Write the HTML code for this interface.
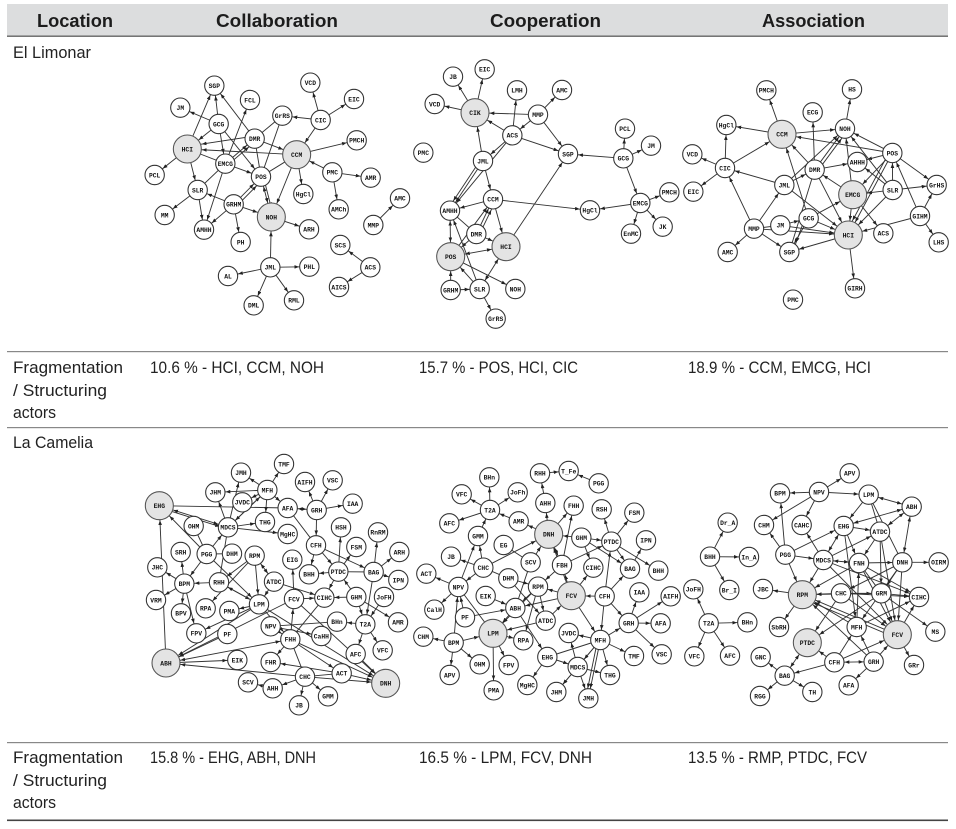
<!DOCTYPE html>
<html lang="en"><head><meta charset="utf-8"><title>Network diagrams by location</title>
<style>
html,body{margin:0;padding:0;background:#fff}
svg{display:block}
.t1{font:17px "Liberation Sans",sans-serif;fill:#222}
.h1{font:bold 18px "Liberation Sans",sans-serif;fill:#1c1c1c}
.g path{fill:none;stroke:#333;stroke-width:2.8}
.g circle{fill:#fff;stroke:#333;stroke-width:3.2}
.g circle.B{fill:#e4e4e4;stroke:#555}
.g text{font:bold 19px "Liberation Mono",monospace;text-anchor:middle;fill:#111}
.a{marker-end:url(#a)}.b{marker-end:url(#b)}
.s{marker-start:url(#a)}.u{marker-start:url(#b)}
</style></head><body>
<svg width="956" height="829" viewBox="0 0 956 829" xmlns="http://www.w3.org/2000/svg">
<defs>
<marker id="a" markerUnits="userSpaceOnUse" markerWidth="14" markerHeight="11" refX="45" refY="5.5" orient="auto-start-reverse"><path d="M0 0L14 5.5L0 11z" fill="#222"/></marker>
<marker id="b" markerUnits="userSpaceOnUse" markerWidth="14" markerHeight="11" refX="58" refY="5.5" orient="auto-start-reverse"><path d="M0 0L14 5.5L0 11z" fill="#222"/></marker>
</defs>

<rect x="7" y="4" width="941" height="32" fill="#dcddde"/>
<rect x="7" y="35.5" width="941" height="1.4" fill="#666"/>
<rect x="7" y="351" width="941" height="1.2" fill="#888"/>
<rect x="7" y="427" width="941" height="1.2" fill="#888"/>
<rect x="7" y="742" width="941" height="1.2" fill="#888"/>
<rect x="7" y="819.5" width="941" height="1.6" fill="#444"/>

<text class="h1" x="37" y="27" textLength="76" lengthAdjust="spacingAndGlyphs">Location</text>
<text class="h1" x="216" y="27" textLength="122" lengthAdjust="spacingAndGlyphs">Collaboration</text>
<text class="h1" x="490" y="27" textLength="111" lengthAdjust="spacingAndGlyphs">Cooperation</text>
<text class="h1" x="762" y="27" textLength="103" lengthAdjust="spacingAndGlyphs">Association</text>

<text class="t1" x="13" y="58" textLength="78" lengthAdjust="spacingAndGlyphs">El Limonar</text>
<text class="t1" x="13" y="373" textLength="110" lengthAdjust="spacingAndGlyphs">Fragmentation</text>
<text class="t1" x="13" y="396" textLength="94" lengthAdjust="spacingAndGlyphs">/ Structuring</text>
<text class="t1" x="13" y="418" textLength="43" lengthAdjust="spacingAndGlyphs">actors</text>
<text class="t1" x="150" y="373" textLength="174" lengthAdjust="spacingAndGlyphs">10.6 % - HCI, CCM, NOH</text>
<text class="t1" x="419" y="373" textLength="159" lengthAdjust="spacingAndGlyphs">15.7 % - POS, HCI, CIC</text>
<text class="t1" x="688" y="373" textLength="183" lengthAdjust="spacingAndGlyphs">18.9 % - CCM, EMCG, HCI</text>
<text class="t1" x="13" y="448" textLength="80" lengthAdjust="spacingAndGlyphs">La Camelia</text>
<text class="t1" x="13" y="763" textLength="110" lengthAdjust="spacingAndGlyphs">Fragmentation</text>
<text class="t1" x="13" y="786" textLength="94" lengthAdjust="spacingAndGlyphs">/ Structuring</text>
<text class="t1" x="13" y="808" textLength="43" lengthAdjust="spacingAndGlyphs">actors</text>
<text class="t1" x="150" y="763" textLength="166" lengthAdjust="spacingAndGlyphs">15.8 % - EHG, ABH, DNH</text>
<text class="t1" x="419" y="763" textLength="173" lengthAdjust="spacingAndGlyphs">16.5 % - LPM, FCV, DNH</text>
<text class="t1" x="688" y="763" textLength="179" lengthAdjust="spacingAndGlyphs">13.5 % - RMP, PTDC, FCV</text>

<!-- Graph 1 -->
<g class="g" transform="translate(130 60) scale(.33333)">
<path class="a" d="M266 192L253 77"/><path class="a" d="M172 267L253 77"/><path class="a" d="M374 236L253 77"/><path class="a" d="M266 192L151 143"/><path class="b" d="M266 192L172 267"/><path class="a" d="M266 192L393 350"/><path class="a" d="M266 192L286 311"/><path class="a" d="M286 311L360 120"/><path class="b" d="M374 228L172 259"/><path class="b" d="M500 284L172 267"/><path d="M286 311L172 267"/><path class="a" d="M286 311L374 236"/><path class="a" d="M292 316L380 241"/><path class="b" d="M374 236L500 284"/><path d="M374 236L457 167"/><path d="M374 236L393 350"/><path d="M457 167L393 350"/><path d="M500 284L393 350"/><path class="a" d="M286 311L393 350"/><path class="b s" d="M393 350L424 471"/><path class="a" d="M400 350L431 471"/><path class="b" d="M500 284L424 471"/><path class="b" d="M311 433L424 471"/><path class="a" d="M311 433L393 350"/><path class="a" d="M319 439L401 356"/><path class="a" d="M572 180L457 167"/><path class="a" d="M572 180L541 68"/><path class="a" d="M572 180L672 117"/><path class="b" d="M572 180L500 284"/><path class="a" d="M500 284L680 241"/><path class="b" d="M607 337L500 284"/><path class="a" d="M607 337L722 353"/><path class="a" d="M607 337L626 448"/><path class="a" d="M500 284L520 402"/><path class="a" d="M172 267L74 345"/><path class="a" d="M172 267L203 390"/><path d="M286 311L203 390"/><path class="a" d="M286 311L222 509"/><path class="a" d="M203 390L104 465"/><path class="a" d="M203 390L222 509"/><path class="a" d="M311 433L203 390"/><path class="a" d="M311 433L222 509"/><path class="a" d="M311 433L332 546"/><path class="a" d="M424 471L537 508"/><path class="b" d="M421 622L424 471"/><path class="a" d="M421 622L294 648"/><path class="a" d="M421 622L538 620"/><path class="a" d="M421 622L371 736"/><path class="a" d="M421 622L492 721"/><path class="a" d="M730 495L810 415"/><path class="a" d="M721 622L631 555"/><path class="a" d="M721 622L627 681"/>
<circle cx="253" cy="77" r="29"/><text x="253" y="84">SGP</text>
<circle cx="151" cy="143" r="29"/><text x="151" y="150">JM</text>
<circle cx="360" cy="120" r="29"/><text x="360" y="127">FCL</text>
<circle cx="541" cy="68" r="29"/><text x="541" y="75">VCD</text>
<circle cx="672" cy="117" r="29"/><text x="672" y="124">EIC</text>
<circle cx="457" cy="167" r="29"/><text x="457" y="174">GrRS</text>
<circle cx="572" cy="180" r="29"/><text x="572" y="187">CIC</text>
<circle cx="266" cy="192" r="29"/><text x="266" y="199">GCG</text>
<circle cx="374" cy="236" r="29"/><text x="374" y="243">DMR</text>
<circle cx="680" cy="241" r="29"/><text x="680" y="248">PMCH</text>
<circle class="B" cx="172" cy="267" r="42"/><text x="172" y="274">HCI</text>
<circle class="B" cx="500" cy="284" r="42"/><text x="500" y="291">CCM</text>
<circle cx="286" cy="311" r="29"/><text x="286" y="318">EMCG</text>
<circle cx="607" cy="337" r="29"/><text x="607" y="344">PMC</text>
<circle cx="722" cy="353" r="29"/><text x="722" y="360">AMR</text>
<circle cx="74" cy="345" r="29"/><text x="74" y="352">PCL</text>
<circle cx="393" cy="350" r="29"/><text x="393" y="357">POS</text>
<circle cx="203" cy="390" r="29"/><text x="203" y="397">SLR</text>
<circle cx="520" cy="402" r="29"/><text x="520" y="409">HgCl</text>
<circle cx="626" cy="448" r="29"/><text x="626" y="455">AMCh</text>
<circle cx="810" cy="415" r="29"/><text x="810" y="422">AMC</text>
<circle cx="311" cy="433" r="29"/><text x="311" y="440">GRHM</text>
<circle cx="104" cy="465" r="29"/><text x="104" y="472">MM</text>
<circle class="B" cx="424" cy="471" r="42"/><text x="424" y="478">NOH</text>
<circle cx="537" cy="508" r="29"/><text x="537" y="515">ARH</text>
<circle cx="222" cy="509" r="29"/><text x="222" y="516">AMHH</text>
<circle cx="730" cy="495" r="29"/><text x="730" y="502">MMP</text>
<circle cx="332" cy="546" r="29"/><text x="332" y="553">PH</text>
<circle cx="631" cy="555" r="29"/><text x="631" y="562">SCS</text>
<circle cx="721" cy="622" r="29"/><text x="721" y="629">ACS</text>
<circle cx="294" cy="648" r="29"/><text x="294" y="655">AL</text>
<circle cx="421" cy="622" r="29"/><text x="421" y="629">JML</text>
<circle cx="538" cy="620" r="29"/><text x="538" y="627">PHL</text>
<circle cx="627" cy="681" r="29"/><text x="627" y="688">AICS</text>
<circle cx="371" cy="736" r="29"/><text x="371" y="743">DML</text>
<circle cx="492" cy="721" r="29"/><text x="492" y="728">RML</text>
</g>

<!-- Graph 2 -->
<g class="g" transform="translate(410 50) scale(.33333)">
<path class="a" d="M195 188L129 80"/><path class="a" d="M195 188L224 58"/><path class="a" d="M195 188L74 162"/><path class="b" d="M384 194L195 188"/><path class="b" d="M307 256L195 188"/><path class="b" d="M219 333L195 188"/><path class="a" d="M307 256L321 121"/><path class="a" d="M384 194L456 120"/><path class="a" d="M384 194L307 256"/><path class="a" d="M384 194L474 312"/><path class="a" d="M307 256L474 312"/><path class="a" d="M307 256L219 333"/><path class="a" d="M307 256L120 482"/><path class="a" d="M219 333L120 482"/><path class="a" d="M212 329L113 478"/><path class="a" d="M219 333L249 448"/><path class="a" d="M640 325L474 312"/><path class="a" d="M640 325L645 236"/><path class="a" d="M640 325L723 287"/><path class="a" d="M640 325L691 459"/><path class="a" d="M691 459L778 427"/><path class="a" d="M691 459L758 530"/><path class="a" d="M691 459L663 551"/><path class="a" d="M691 459L540 481"/><path class="a" d="M249 448L540 481"/><path class="a" d="M288 590L474 312"/><path class="a" d="M249 448L120 482"/><path class="b" d="M249 448L288 590"/><path class="a" d="M199 552L249 448"/><path class="a" d="M207 556L257 452"/><path class="a" d="M122 620L249 448"/><path d="M120 482L199 552"/><path class="b" d="M199 552L288 590"/><path class="b" d="M199 552L122 620"/><path class="b s" d="M120 482L122 620"/><path class="b u" d="M122 620L288 590"/><path class="a" d="M209 717L120 482"/><path class="b s" d="M209 717L288 590"/><path class="a" d="M122 620L316 717"/><path class="b" d="M122 720L122 620"/><path class="a" d="M122 720L209 717"/><path class="a" d="M209 717L257 806"/><path class="b" d="M209 717L122 620"/>
<circle cx="224" cy="58" r="29"/><text x="224" y="65">EIC</text>
<circle cx="129" cy="80" r="29"/><text x="129" y="87">JB</text>
<circle cx="321" cy="121" r="29"/><text x="321" y="128">LMH</text>
<circle cx="456" cy="120" r="29"/><text x="456" y="127">AMC</text>
<circle cx="74" cy="162" r="29"/><text x="74" y="169">VCD</text>
<circle class="B" cx="195" cy="188" r="42"/><text x="195" y="195">CIK</text>
<circle cx="384" cy="194" r="29"/><text x="384" y="201">MMP</text>
<circle cx="307" cy="256" r="29"/><text x="307" y="263">ACS</text>
<circle cx="645" cy="236" r="29"/><text x="645" y="243">PCL</text>
<circle cx="723" cy="287" r="29"/><text x="723" y="294">JM</text>
<circle cx="40" cy="308" r="29"/><text x="40" y="315">PMC</text>
<circle cx="219" cy="333" r="29"/><text x="219" y="340">JML</text>
<circle cx="474" cy="312" r="29"/><text x="474" y="319">SGP</text>
<circle cx="640" cy="325" r="29"/><text x="640" y="332">GCG</text>
<circle cx="249" cy="448" r="29"/><text x="249" y="455">CCM</text>
<circle cx="120" cy="482" r="29"/><text x="120" y="489">AMHH</text>
<circle cx="540" cy="481" r="29"/><text x="540" y="488">HgCl</text>
<circle cx="691" cy="459" r="29"/><text x="691" y="466">EMCG</text>
<circle cx="778" cy="427" r="29"/><text x="778" y="434">PMCH</text>
<circle cx="758" cy="530" r="29"/><text x="758" y="537">JK</text>
<circle cx="663" cy="551" r="29"/><text x="663" y="558">EnMC</text>
<circle cx="199" cy="552" r="29"/><text x="199" y="559">DMR</text>
<circle class="B" cx="288" cy="590" r="42"/><text x="288" y="597">HCI</text>
<circle class="B" cx="122" cy="620" r="42"/><text x="122" y="627">POS</text>
<circle cx="122" cy="720" r="29"/><text x="122" y="727">GRHM</text>
<circle cx="209" cy="717" r="29"/><text x="209" y="724">SLR</text>
<circle cx="316" cy="717" r="29"/><text x="316" y="724">NOH</text>
<circle cx="257" cy="806" r="29"/><text x="257" y="813">GrRS</text>
</g>

<!-- Graph 3 -->
<g class="g" transform="translate(680 70) scale(.33333)">
<path class="a" d="M306 193L259 61"/><path class="a" d="M495 176L516 58"/><path class="a" d="M404 299L398 127"/><path class="a" d="M306 193L139 165"/><path class="a" d="M135 294L139 165"/><path class="a" d="M135 294L37 253"/><path class="a" d="M135 294L40 365"/><path class="b" d="M135 294L306 193"/><path class="a" d="M306 193L495 176"/><path class="b" d="M637 249L306 193"/><path class="b" d="M404 299L306 193"/><path class="a" d="M313 345L135 294"/><path class="a" d="M222 476L135 294"/><path class="a" d="M222 476L313 345"/><path class="a" d="M222 476L143 546"/><path class="a" d="M222 476L328 546"/><path class="b" d="M222 476L505 495"/><path d="M222 476L301 466"/><path class="a" d="M301 466L386 445"/><path class="b" d="M301 466L505 495"/><path class="b" d="M386 445L306 193"/><path class="a" d="M386 445L328 546"/><path class="a" d="M376 441L338 546"/><path class="b" d="M386 445L505 495"/><path class="b" d="M386 445L518 374"/><path class="a" d="M313 345L404 299"/><path class="a" d="M313 345L495 176"/><path class="b" d="M313 345L505 495"/><path class="a" d="M404 299L495 176"/><path class="a" d="M412 304L503 181"/><path class="a" d="M404 299L532 276"/><path class="b" d="M404 299L505 495"/><path d="M404 299L328 546"/><path class="a" d="M518 374L404 299"/><path class="a" d="M518 374L495 176"/><path class="a" d="M518 374L610 490"/><path class="b" d="M518 374L505 495"/><path class="a" d="M637 249L495 176"/><path class="a" d="M637 249L532 276"/><path class="b" d="M637 249L518 374"/><path class="b" d="M637 249L505 495"/><path class="b" d="M629 244L497 490"/><path class="a" d="M637 249L770 345"/><path class="a" d="M638 360L637 249"/><path class="a" d="M638 360L532 276"/><path class="a" d="M638 360L495 176"/><path class="a" d="M638 360L770 345"/><path class="b" d="M638 360L505 495"/><path class="b" d="M638 360L518 374"/><path class="a" d="M720 438L637 249"/><path class="a" d="M720 438L770 345"/><path class="a" d="M720 438L776 517"/><path class="b" d="M720 438L505 495"/><path class="a" d="M505 495L525 655"/><path class="a" d="M505 495L328 546"/>
<circle cx="259" cy="61" r="29"/><text x="259" y="68">PMCH</text>
<circle cx="516" cy="58" r="29"/><text x="516" y="65">HS</text>
<circle cx="398" cy="127" r="29"/><text x="398" y="134">ECG</text>
<circle cx="139" cy="165" r="29"/><text x="139" y="172">HgCl</text>
<circle cx="495" cy="176" r="29"/><text x="495" y="183">NOH</text>
<circle class="B" cx="306" cy="193" r="42"/><text x="306" y="200">CCM</text>
<circle cx="37" cy="253" r="29"/><text x="37" y="260">VCD</text>
<circle cx="637" cy="249" r="29"/><text x="637" y="256">POS</text>
<circle cx="135" cy="294" r="29"/><text x="135" y="301">CIC</text>
<circle cx="532" cy="276" r="29"/><text x="532" y="283">AHHH</text>
<circle cx="404" cy="299" r="29"/><text x="404" y="306">DMR</text>
<circle cx="313" cy="345" r="29"/><text x="313" y="352">JML</text>
<circle cx="40" cy="365" r="29"/><text x="40" y="372">EIC</text>
<circle cx="770" cy="345" r="29"/><text x="770" y="352">GrHS</text>
<circle cx="638" cy="360" r="29"/><text x="638" y="367">SLR</text>
<circle class="B" cx="518" cy="374" r="42"/><text x="518" y="381">EMCG</text>
<circle cx="720" cy="438" r="29"/><text x="720" y="445">GIHM</text>
<circle cx="301" cy="466" r="29"/><text x="301" y="473">JM</text>
<circle cx="386" cy="445" r="29"/><text x="386" y="452">GCG</text>
<circle cx="222" cy="476" r="29"/><text x="222" y="483">MMP</text>
<circle class="B" cx="505" cy="495" r="42"/><text x="505" y="502">HCI</text>
<circle cx="610" cy="490" r="29"/><text x="610" y="497">ACS</text>
<circle cx="143" cy="546" r="29"/><text x="143" y="553">AMC</text>
<circle cx="328" cy="546" r="29"/><text x="328" y="553">SGP</text>
<circle cx="776" cy="517" r="29"/><text x="776" y="524">LHS</text>
<circle cx="525" cy="655" r="29"/><text x="525" y="662">GIRH</text>
<circle cx="339" cy="689" r="29"/><text x="339" y="696">PMC</text>
</g>

<!-- Graph 4 -->
<g class="g" transform="translate(135 450) scale(.33333)">
<path class="b" d="M93 639L73 167"/><path class="a" d="M148 401L67 352"/><path class="a" d="M148 401L63 450"/><path class="a" d="M148 401L137 306"/><path class="a" d="M148 401L138 490"/><path class="a" d="M148 401L184 550"/><path class="a" d="M252 397L148 401"/><path class="a" d="M215 312L148 401"/><path d="M215 312L176 228"/><path class="b" d="M215 312L73 167"/><path class="a" d="M215 312L279 232"/><path d="M215 312L291 311"/><path class="a" d="M215 312L372 463"/><path class="a u" d="M73 167L279 232"/><path class="a" d="M78 174L284 239"/><path d="M73 167L458 174"/><path class="a" d="M279 232L390 216"/><path class="a" d="M279 232L458 252"/><path class="a" d="M279 232L318 68"/><path class="a" d="M279 232L241 127"/><path class="a" d="M279 232L397 120"/><path class="a" d="M397 120L447 42"/><path class="a" d="M397 120L318 68"/><path class="a" d="M397 120L241 127"/><path class="a" d="M397 120L322 157"/><path class="a" d="M397 120L390 216"/><path class="a" d="M397 120L279 232"/><path class="a" d="M397 120L458 174"/><path class="a s" d="M458 174L545 180"/><path class="a" d="M545 180L510 96"/><path class="a" d="M545 180L593 91"/><path class="a" d="M545 180L653 161"/><path class="a" d="M545 180L543 286"/><path d="M458 174L543 286"/><path class="a" d="M543 286L610 365"/><path class="a" d="M543 286L716 366"/><path class="a" d="M543 286L522 373"/><path class="a" d="M610 365L618 232"/><path class="a" d="M610 365L664 291"/><path class="a" d="M610 365L522 373"/><path d="M716 366L610 365"/><path class="a" d="M716 366L729 247"/><path class="a" d="M716 366L793 306"/><path class="a" d="M716 366L790 390"/><path class="a" d="M716 366L691 523"/><path class="a" d="M664 441L610 365"/><path class="a" d="M664 441L568 443"/><path class="a" d="M664 441L691 523"/><path class="a" d="M664 441L789 517"/><path class="a" d="M610 365L568 443"/><path class="a" d="M747 441L691 523"/><path class="a" d="M691 523L606 515"/><path class="a" d="M691 523L662 612"/><path class="a" d="M691 523L743 601"/><path d="M606 515L407 529"/><path class="a" d="M477 447L472 329"/><path class="a" d="M477 447L568 443"/><path class="a" d="M417 395L568 443"/><path class="a s" d="M359 317L417 395"/><path class="a" d="M417 395L372 463"/><path class="a" d="M359 317L372 463"/><path class="a" d="M359 317L252 397"/><path class="a" d="M359 317L212 475"/><path class="a" d="M252 397L372 463"/><path class="a" d="M372 463L252 397"/><path d="M279 232L252 397"/><path class="a" d="M372 463L283 483"/><path class="a" d="M372 463L184 550"/><path class="b" d="M372 463L93 639"/><path class="b" d="M477 447L93 639"/><path class="b" d="M277 552L93 639"/><path class="b s" d="M466 568L93 639"/><path class="a" d="M466 568L477 447"/><path d="M568 443L466 568"/><path class="a" d="M466 568L407 636"/><path d="M466 568L510 680"/><path class="b" d="M466 568L752 700"/><path class="a" d="M466 568L620 670"/><path class="b" d="M372 463L752 700"/><path class="a" d="M407 529L466 568"/><path class="a" d="M407 529L559 558"/><path class="a" d="M372 463L466 568"/><path class="b" d="M662 612L752 700"/><path class="a" d="M620 670L407 636"/><path class="a" d="M93 639L307 630"/><path class="b" d="M510 680L93 639"/><path class="a" d="M510 680L413 715"/><path class="a" d="M413 715L339 697"/><path class="a" d="M510 680L579 739"/><path class="a" d="M510 680L492 766"/><path class="b" d="M510 680L752 700"/><path class="b" d="M620 670L752 700"/><path class="b" d="M477 447L752 700"/><path d="M510 680L620 670"/>
<circle cx="447" cy="42" r="29"/><text x="447" y="49">TMF</text>
<circle cx="318" cy="68" r="29"/><text x="318" y="75">JMH</text>
<circle cx="510" cy="96" r="29"/><text x="510" y="103">AIFH</text>
<circle cx="593" cy="91" r="29"/><text x="593" y="98">VSC</text>
<circle cx="397" cy="120" r="29"/><text x="397" y="127">MFH</text>
<circle cx="241" cy="127" r="29"/><text x="241" y="134">JHM</text>
<circle cx="653" cy="161" r="29"/><text x="653" y="168">IAA</text>
<circle class="B" cx="73" cy="167" r="42"/><text x="73" y="174">EHG</text>
<circle cx="322" cy="157" r="29"/><text x="322" y="164">JVDC</text>
<circle cx="458" cy="174" r="29"/><text x="458" y="181">AFA</text>
<circle cx="545" cy="180" r="29"/><text x="545" y="187">GRH</text>
<circle cx="390" cy="216" r="29"/><text x="390" y="223">THG</text>
<circle cx="176" cy="228" r="29"/><text x="176" y="235">OHM</text>
<circle cx="279" cy="232" r="29"/><text x="279" y="239">MDCS</text>
<circle cx="618" cy="232" r="29"/><text x="618" y="239">HSH</text>
<circle cx="458" cy="252" r="29"/><text x="458" y="259">MgHC</text>
<circle cx="729" cy="247" r="29"/><text x="729" y="254">RnRM</text>
<circle cx="137" cy="306" r="29"/><text x="137" y="313">SRH</text>
<circle cx="215" cy="312" r="29"/><text x="215" y="319">PGG</text>
<circle cx="291" cy="311" r="29"/><text x="291" y="318">DHM</text>
<circle cx="359" cy="317" r="29"/><text x="359" y="324">RPM</text>
<circle cx="543" cy="286" r="29"/><text x="543" y="293">CFH</text>
<circle cx="664" cy="291" r="29"/><text x="664" y="298">FSM</text>
<circle cx="793" cy="306" r="29"/><text x="793" y="313">ARH</text>
<circle cx="472" cy="329" r="29"/><text x="472" y="336">EIG</text>
<circle cx="67" cy="352" r="29"/><text x="67" y="359">JHC</text>
<circle cx="148" cy="401" r="29"/><text x="148" y="408">BPM</text>
<circle cx="252" cy="397" r="29"/><text x="252" y="404">RHH</text>
<circle cx="417" cy="395" r="29"/><text x="417" y="402">ATDC</text>
<circle cx="522" cy="373" r="29"/><text x="522" y="380">BHH</text>
<circle cx="610" cy="365" r="29"/><text x="610" y="372">PTDC</text>
<circle cx="716" cy="366" r="29"/><text x="716" y="373">BAG</text>
<circle cx="790" cy="390" r="29"/><text x="790" y="397">IPN</text>
<circle cx="63" cy="450" r="29"/><text x="63" y="457">VRM</text>
<circle cx="138" cy="490" r="29"/><text x="138" y="497">BPV</text>
<circle cx="212" cy="475" r="29"/><text x="212" y="482">RPA</text>
<circle cx="283" cy="483" r="29"/><text x="283" y="490">PMA</text>
<circle cx="372" cy="463" r="29"/><text x="372" y="470">LPM</text>
<circle cx="477" cy="447" r="29"/><text x="477" y="454">FCV</text>
<circle cx="568" cy="443" r="29"/><text x="568" y="450">CIHC</text>
<circle cx="664" cy="441" r="29"/><text x="664" y="448">GHM</text>
<circle cx="747" cy="441" r="29"/><text x="747" y="448">JoFH</text>
<circle cx="789" cy="517" r="29"/><text x="789" y="524">AMR</text>
<circle cx="407" cy="529" r="29"/><text x="407" y="536">NPV</text>
<circle cx="559" cy="558" r="29"/><text x="559" y="565">CaHH</text>
<circle cx="606" cy="515" r="29"/><text x="606" y="522">BHn</text>
<circle cx="691" cy="523" r="29"/><text x="691" y="530">T2A</text>
<circle cx="184" cy="550" r="29"/><text x="184" y="557">FPV</text>
<circle cx="277" cy="552" r="29"/><text x="277" y="559">PF</text>
<circle cx="466" cy="568" r="29"/><text x="466" y="575">FHH</text>
<circle cx="743" cy="601" r="29"/><text x="743" y="608">VFC</text>
<circle cx="662" cy="612" r="29"/><text x="662" y="619">AFC</text>
<circle class="B" cx="93" cy="639" r="42"/><text x="93" y="646">ABH</text>
<circle cx="307" cy="630" r="29"/><text x="307" y="637">EIK</text>
<circle cx="407" cy="636" r="29"/><text x="407" y="643">FHR</text>
<circle cx="620" cy="670" r="29"/><text x="620" y="677">ACT</text>
<circle cx="510" cy="680" r="29"/><text x="510" y="687">CHC</text>
<circle class="B" cx="752" cy="700" r="42"/><text x="752" y="707">DNH</text>
<circle cx="339" cy="697" r="29"/><text x="339" y="704">SCV</text>
<circle cx="413" cy="715" r="29"/><text x="413" y="722">AHH</text>
<circle cx="579" cy="739" r="29"/><text x="579" y="746">GMM</text>
<circle cx="492" cy="766" r="29"/><text x="492" y="773">JB</text>
</g>

<!-- Graph 5 -->
<g class="g" transform="translate(410 455) scale(.33333)">
<path class="a" d="M390 55L476 48"/><path class="a" d="M566 85L476 48"/><path class="a" d="M406 144L390 55"/><path class="a" d="M416 238L406 144"/><path class="a" d="M416 238L491 152"/><path class="a" d="M456 330L491 152"/><path class="a" d="M326 199L240 165"/><path class="a" d="M240 165L238 67"/><path class="a" d="M240 165L323 112"/><path class="a" d="M240 165L155 118"/><path class="a" d="M240 165L118 205"/><path class="a" d="M204 243L240 165"/><path class="a" d="M416 238L326 199"/><path class="a" d="M145 396L204 243"/><path class="a" d="M220 338L204 243"/><path class="a" d="M220 338L123 305"/><path class="a" d="M220 338L145 396"/><path class="b" d="M220 338L416 238"/><path d="M281 270L362 322"/><path class="b" d="M362 322L416 238"/><path d="M362 322L316 459"/><path class="a" d="M145 396L49 356"/><path class="a" d="M145 396L73 464"/><path class="a" d="M165 487L145 396"/><path d="M249 535L145 396"/><path class="a" d="M131 563L145 396"/><path class="a u" d="M416 238L456 330"/><path class="b" d="M514 248L416 238"/><path class="a" d="M456 330L604 260"/><path class="a" d="M514 248L604 260"/><path class="a" d="M514 248L660 341"/><path class="a" d="M514 248L550 338"/><path class="a" d="M604 260L575 163"/><path class="a" d="M604 260L673 173"/><path class="a" d="M604 260L660 341"/><path class="a" d="M604 260L745 347"/><path class="a" d="M660 341L708 256"/><path class="a" d="M584 424L660 341"/><path class="a" d="M584 424L604 260"/><path class="b" d="M584 424L484 422"/><path class="a" d="M584 424L656 504"/><path class="a" d="M584 424L571 555"/><path class="a" d="M484 422L550 338"/><path class="a" d="M484 422L456 330"/><path class="b" d="M484 422L416 238"/><path class="a" d="M484 422L384 395"/><path class="a" d="M484 422L316 459"/><path class="a" d="M484 422L571 555"/><path class="a" d="M456 330L384 395"/><path class="b" d="M407 497L484 422"/><path class="a" d="M656 504L688 412"/><path class="a" d="M656 504L782 424"/><path class="a" d="M656 504L752 505"/><path class="a" d="M656 504L755 598"/><path class="a" d="M571 555L656 504"/><path class="a" d="M571 555L672 603"/><path class="a" d="M571 555L476 534"/><path class="a" d="M571 555L600 660"/><path d="M571 555L412 606"/><path class="a" d="M571 555L535 730"/><path class="a" d="M563 555L527 730"/><path class="a" d="M571 555L439 711"/><path class="a" d="M571 555L503 636"/><path d="M220 338L295 370"/><path class="a" d="M295 370L384 395"/><path class="a" d="M295 370L407 497"/><path class="a" d="M384 395L316 459"/><path class="b" d="M384 395L249 535"/><path class="a" d="M384 395L340 556"/><path class="a" d="M384 395L407 497"/><path class="a" d="M227 423L316 459"/><path class="b" d="M316 459L249 535"/><path class="a" d="M316 459L412 606"/><path class="b" d="M407 497L249 535"/><path class="a" d="M249 535L296 630"/><path class="a" d="M249 535L251 706"/><path class="b" d="M131 563L249 535"/><path class="a" d="M131 563L40 545"/><path class="a" d="M131 563L209 628"/><path class="a" d="M131 563L119 660"/><path class="a" d="M165 487L316 459"/><path class="a" d="M249 535L340 556"/><path class="a" d="M412 606L503 636"/><path class="a" d="M412 606L352 690"/><path class="a" d="M503 636L476 534"/><path class="a" d="M503 636L600 660"/><path class="a" d="M503 636L439 711"/><path class="a" d="M503 636L535 730"/>
<circle cx="390" cy="55" r="29"/><text x="390" y="62">RHH</text>
<circle cx="476" cy="48" r="29"/><text x="476" y="55">T_Fe</text>
<circle cx="566" cy="85" r="29"/><text x="566" y="92">PGG</text>
<circle cx="238" cy="67" r="29"/><text x="238" y="74">BHn</text>
<circle cx="323" cy="112" r="29"/><text x="323" y="119">JoFh</text>
<circle cx="155" cy="118" r="29"/><text x="155" y="125">VFC</text>
<circle cx="406" cy="144" r="29"/><text x="406" y="151">AHH</text>
<circle cx="491" cy="152" r="29"/><text x="491" y="159">FHH</text>
<circle cx="575" cy="163" r="29"/><text x="575" y="170">RSH</text>
<circle cx="673" cy="173" r="29"/><text x="673" y="180">FSM</text>
<circle cx="240" cy="165" r="29"/><text x="240" y="172">T2A</text>
<circle cx="118" cy="205" r="29"/><text x="118" y="212">AFC</text>
<circle cx="326" cy="199" r="29"/><text x="326" y="206">AMR</text>
<circle cx="204" cy="243" r="29"/><text x="204" y="250">GMM</text>
<circle class="B" cx="416" cy="238" r="42"/><text x="416" y="245">DNH</text>
<circle cx="514" cy="248" r="29"/><text x="514" y="255">GHM</text>
<circle cx="604" cy="260" r="29"/><text x="604" y="267">PTDC</text>
<circle cx="708" cy="256" r="29"/><text x="708" y="263">IPN</text>
<circle cx="281" cy="270" r="29"/><text x="281" y="277">EG</text>
<circle cx="123" cy="305" r="29"/><text x="123" y="312">JB</text>
<circle cx="362" cy="322" r="29"/><text x="362" y="329">SCV</text>
<circle cx="456" cy="330" r="29"/><text x="456" y="337">FBH</text>
<circle cx="220" cy="338" r="29"/><text x="220" y="345">CHC</text>
<circle cx="550" cy="338" r="29"/><text x="550" y="345">CIHC</text>
<circle cx="660" cy="341" r="29"/><text x="660" y="348">BAG</text>
<circle cx="745" cy="347" r="29"/><text x="745" y="354">BHH</text>
<circle cx="49" cy="356" r="29"/><text x="49" y="363">ACT</text>
<circle cx="295" cy="370" r="29"/><text x="295" y="377">DHM</text>
<circle cx="145" cy="396" r="29"/><text x="145" y="403">NPV</text>
<circle cx="384" cy="395" r="29"/><text x="384" y="402">RPM</text>
<circle class="B" cx="484" cy="422" r="42"/><text x="484" y="429">FCV</text>
<circle cx="584" cy="424" r="29"/><text x="584" y="431">CFH</text>
<circle cx="227" cy="423" r="29"/><text x="227" y="430">EIK</text>
<circle cx="688" cy="412" r="29"/><text x="688" y="419">IAA</text>
<circle cx="782" cy="424" r="29"/><text x="782" y="431">AIFH</text>
<circle cx="73" cy="464" r="29"/><text x="73" y="471">CalH</text>
<circle cx="316" cy="459" r="29"/><text x="316" y="466">ABH</text>
<circle cx="165" cy="487" r="29"/><text x="165" y="494">PF</text>
<circle cx="407" cy="497" r="29"/><text x="407" y="504">ATDC</text>
<circle cx="656" cy="504" r="29"/><text x="656" y="511">GRH</text>
<circle cx="752" cy="505" r="29"/><text x="752" y="512">AFA</text>
<circle class="B" cx="249" cy="535" r="42"/><text x="249" y="542">LPM</text>
<circle cx="476" cy="534" r="29"/><text x="476" y="541">JVDC</text>
<circle cx="40" cy="545" r="29"/><text x="40" y="552">CHM</text>
<circle cx="131" cy="563" r="29"/><text x="131" y="570">BPM</text>
<circle cx="340" cy="556" r="29"/><text x="340" y="563">RPA</text>
<circle cx="571" cy="555" r="29"/><text x="571" y="562">MFH</text>
<circle cx="672" cy="603" r="29"/><text x="672" y="610">TMF</text>
<circle cx="755" cy="598" r="29"/><text x="755" y="605">VSC</text>
<circle cx="412" cy="606" r="29"/><text x="412" y="613">EHG</text>
<circle cx="209" cy="628" r="29"/><text x="209" y="635">OHM</text>
<circle cx="296" cy="630" r="29"/><text x="296" y="637">FPV</text>
<circle cx="503" cy="636" r="29"/><text x="503" y="643">MDCS</text>
<circle cx="600" cy="660" r="29"/><text x="600" y="667">THG</text>
<circle cx="119" cy="660" r="29"/><text x="119" y="667">APV</text>
<circle cx="352" cy="690" r="29"/><text x="352" y="697">MgHC</text>
<circle cx="251" cy="706" r="29"/><text x="251" y="713">PMA</text>
<circle cx="439" cy="711" r="29"/><text x="439" y="718">JHM</text>
<circle cx="535" cy="730" r="29"/><text x="535" y="737">JMH</text>
</g>

<!-- Graph 6 -->
<g class="g" transform="translate(680 455) scale(.33333)">
<path class="a" d="M417 111L509 55"/><path class="a" d="M417 111L300 115"/><path class="a" d="M417 111L566 119"/><path class="a" d="M417 111L252 210"/><path class="a" d="M417 111L365 210"/><path class="a" d="M316 299L300 115"/><path class="a" d="M316 299L252 210"/><path class="a" d="M316 299L491 213"/><path class="a" d="M316 299L430 315"/><path class="b" d="M316 299L367 419"/><path class="a" d="M430 315L365 210"/><path class="b" d="M430 315L367 419"/><path class="a s" d="M430 315L491 213"/><path class="a s" d="M430 315L537 324"/><path class="a" d="M430 315L600 230"/><path class="a" d="M430 315L717 426"/><path class="b" d="M430 315L652 539"/><path class="a" d="M566 119L491 213"/><path class="a s" d="M566 119L695 155"/><path d="M566 119L600 230"/><path d="M566 119L667 322"/><path class="a s" d="M491 213L695 155"/><path class="a" d="M491 213L600 230"/><path class="a" d="M491 213L537 324"/><path class="a" d="M491 213L530 516"/><path class="a s" d="M600 230L695 155"/><path class="a" d="M600 230L537 324"/><path class="a" d="M600 230L604 415"/><path class="a s" d="M695 155L667 322"/><path class="b" d="M600 230L652 539"/><path class="a" d="M537 324L667 322"/><path class="a" d="M667 322L776 322"/><path class="b" d="M667 322L652 539"/><path class="a" d="M667 322L483 415"/><path class="a" d="M667 322L604 415"/><path class="a" d="M667 322L530 516"/><path class="b" d="M537 324L367 419"/><path d="M537 324L604 415"/><path class="b" d="M537 324L652 539"/><path class="a" d="M537 324L717 426"/><path class="b" d="M483 415L367 419"/><path class="a" d="M483 415L604 415"/><path class="a" d="M483 415L717 426"/><path class="b" d="M483 415L382 563"/><path class="b" d="M483 415L652 539"/><path class="a" d="M604 415L717 426"/><path class="a" d="M604 415L766 530"/><path class="b" d="M604 415L382 563"/><path class="b" d="M604 415L652 539"/><path class="b" d="M604 415L367 419"/><path class="b" d="M530 516L367 419"/><path class="a" d="M530 516L537 324"/><path class="a" d="M530 516L717 426"/><path class="b" d="M652 539L367 419"/><path class="b" d="M645 547L360 427"/><path class="a" d="M652 539L717 426"/><path class="a" d="M652 539L702 630"/><path class="b" d="M463 622L652 539"/><path class="a" d="M463 622L530 516"/><path class="a s" d="M463 622L581 620"/><path class="b" d="M463 622L382 563"/><path class="a" d="M463 622L314 662"/><path class="a" d="M581 620L530 516"/><path class="b" d="M581 620L652 539"/><path class="a" d="M581 620L506 691"/><path class="b" d="M581 620L367 419"/><path class="a" d="M367 419L249 402"/><path class="a" d="M367 419L297 516"/><path class="b s" d="M314 662L382 563"/><path class="a" d="M314 662L242 606"/><path class="a" d="M314 662L240 723"/><path class="a" d="M314 662L397 711"/><path class="a" d="M90 305L143 203"/><path class="a" d="M90 305L207 306"/><path class="a" d="M90 305L148 405"/><path class="a" d="M86 505L40 403"/><path class="a" d="M86 505L202 502"/><path class="a" d="M86 505L43 604"/><path class="a" d="M86 505L150 602"/>
<circle cx="509" cy="55" r="29"/><text x="509" y="62">APV</text>
<circle cx="417" cy="111" r="29"/><text x="417" y="118">NPV</text>
<circle cx="300" cy="115" r="29"/><text x="300" y="122">BPM</text>
<circle cx="566" cy="119" r="29"/><text x="566" y="126">LPM</text>
<circle cx="695" cy="155" r="29"/><text x="695" y="162">ABH</text>
<circle cx="252" cy="210" r="29"/><text x="252" y="217">CHM</text>
<circle cx="365" cy="210" r="29"/><text x="365" y="217">CAHC</text>
<circle cx="491" cy="213" r="29"/><text x="491" y="220">EHG</text>
<circle cx="600" cy="230" r="29"/><text x="600" y="237">ATDC</text>
<circle cx="143" cy="203" r="29"/><text x="143" y="210">Dr_A</text>
<circle cx="90" cy="305" r="29"/><text x="90" y="312">BHH</text>
<circle cx="207" cy="306" r="29"/><text x="207" y="313">In_A</text>
<circle cx="148" cy="405" r="29"/><text x="148" y="412">Br_I</text>
<circle cx="40" cy="403" r="29"/><text x="40" y="410">JoFH</text>
<circle cx="249" cy="402" r="29"/><text x="249" y="409">JBC</text>
<circle cx="316" cy="299" r="29"/><text x="316" y="306">PGG</text>
<circle cx="430" cy="315" r="29"/><text x="430" y="322">MDCS</text>
<circle cx="537" cy="324" r="29"/><text x="537" y="331">FNH</text>
<circle cx="667" cy="322" r="29"/><text x="667" y="329">DNH</text>
<circle cx="776" cy="322" r="29"/><text x="776" y="329">OIRM</text>
<circle class="B" cx="367" cy="419" r="42"/><text x="367" y="426">RPM</text>
<circle cx="483" cy="415" r="29"/><text x="483" y="422">CHC</text>
<circle cx="604" cy="415" r="29"/><text x="604" y="422">GRM</text>
<circle cx="717" cy="426" r="29"/><text x="717" y="433">CIHC</text>
<circle cx="86" cy="505" r="29"/><text x="86" y="512">T2A</text>
<circle cx="202" cy="502" r="29"/><text x="202" y="509">BHn</text>
<circle cx="297" cy="516" r="29"/><text x="297" y="523">SbRH</text>
<circle cx="530" cy="516" r="29"/><text x="530" y="523">MFH</text>
<circle cx="766" cy="530" r="29"/><text x="766" y="537">MS</text>
<circle class="B" cx="382" cy="563" r="42"/><text x="382" y="570">PTDC</text>
<circle class="B" cx="652" cy="539" r="42"/><text x="652" y="546">FCV</text>
<circle cx="43" cy="604" r="29"/><text x="43" y="611">VFC</text>
<circle cx="150" cy="602" r="29"/><text x="150" y="609">AFC</text>
<circle cx="242" cy="606" r="29"/><text x="242" y="613">GNC</text>
<circle cx="463" cy="622" r="29"/><text x="463" y="629">CFH</text>
<circle cx="581" cy="620" r="29"/><text x="581" y="627">GRH</text>
<circle cx="702" cy="630" r="29"/><text x="702" y="637">GRr</text>
<circle cx="314" cy="662" r="29"/><text x="314" y="669">BAG</text>
<circle cx="506" cy="691" r="29"/><text x="506" y="698">AFA</text>
<circle cx="397" cy="711" r="29"/><text x="397" y="718">TH</text>
<circle cx="240" cy="723" r="29"/><text x="240" y="730">RGG</text>
</g>
</svg>
</body></html>
